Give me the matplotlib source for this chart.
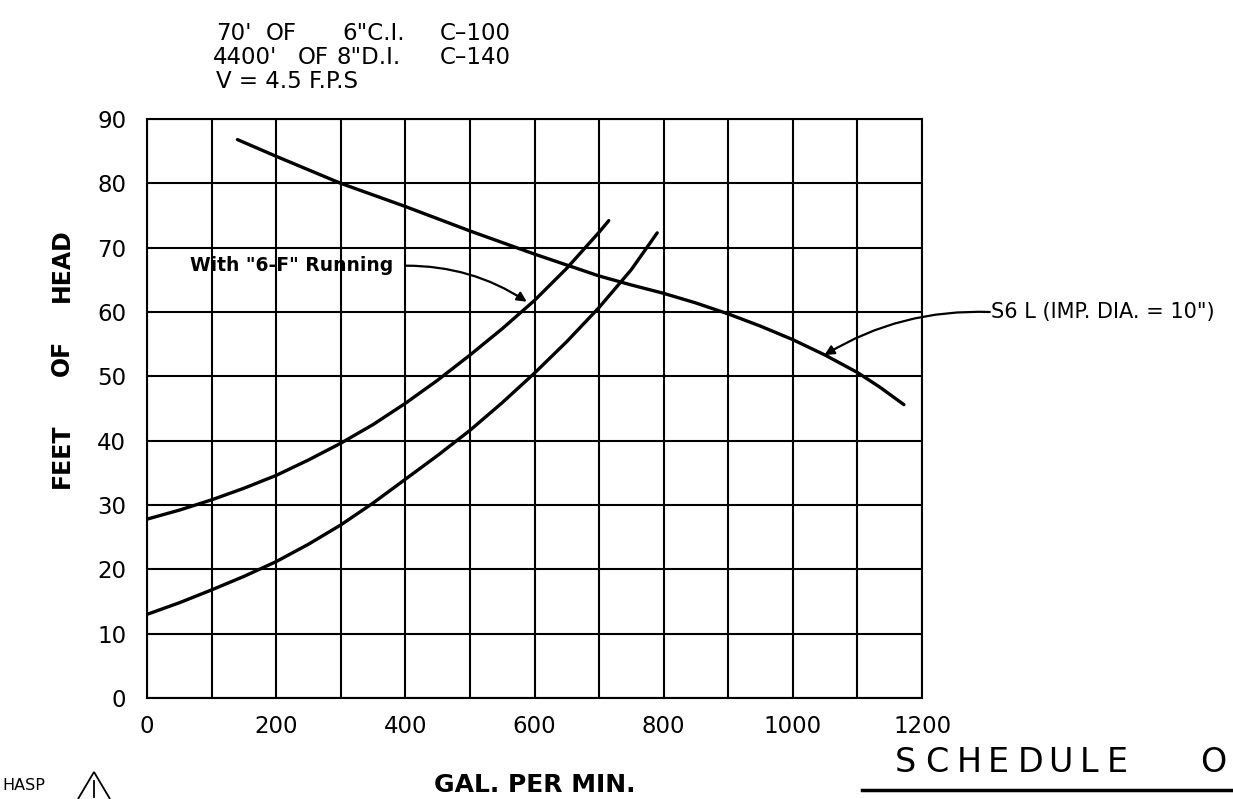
import matplotlib
matplotlib.use("Agg")
import matplotlib.pyplot as plt
from matplotlib.patches import Polygon
from matplotlib.lines import Line2D

plt.rcParams['font.family'] = ['DejaVu Sans']

# ---- data ----
pump_gpm = [140, 200, 250, 300, 350, 400, 450, 500, 550, 600, 650, 700, 750,
            800, 850, 900, 950, 1000, 1050, 1100, 1135, 1172]
pump_head = [86.8, 84.2, 82.1, 80.0, 78.2, 76.4, 74.5, 72.6, 70.8, 69.0, 67.3,
             65.6, 64.2, 62.9, 61.4, 59.7, 57.8, 55.7, 53.3, 50.6, 48.3, 45.6]

sys_6f_gpm = [0, 50, 100, 150, 200, 250, 300, 350, 400, 450, 500, 550, 600,
              650, 700, 715]
sys_6f_head = [27.8, 29.2, 30.8, 32.6, 34.6, 37.0, 39.6, 42.5, 45.8, 49.4,
               53.3, 57.4, 61.8, 66.8, 72.4, 74.2]

sys_gpm = [0, 50, 100, 150, 200, 250, 300, 350, 400, 450, 500, 550, 600, 650,
           700, 750, 790]
sys_head = [13.0, 14.8, 16.8, 18.9, 21.2, 23.9, 26.9, 30.3, 34.0, 37.7, 41.6,
            45.9, 50.5, 55.4, 60.7, 66.6, 72.3]

x_ticks = list(range(0, 1201, 100))
x_ticklabels = [str(v) if v % 200 == 0 else '' for v in x_ticks]
y_ticks = list(range(0, 91, 10))
y_ticklabels = [str(v) for v in y_ticks]

header_parts = [
    [(216, "70'"), (266, "OF"), (342, "6\"C.I."), (440, "C\u2013100")],
    [(213, "4400'"), (298, "OF"), (336, "8\"D.I."), (440, "C\u2013140")],
    [(216, "V = 4.5 F.P.S")],
]
header_y = [33, 57.5, 82]

W, H = 1233, 799
fig = plt.figure(figsize=(W / 100, H / 100), dpi=100)
fig.patch.set_facecolor('white')


def fx(px):
    return px / W


def fy(py):
    return 1 - py / H


ax = fig.add_axes([fx(147), fy(698), (922 - 147) / W, (698 - 119) / H])
ax.set_xlim(0, 1200)
ax.set_ylim(0, 90)
ax.set_xticks(x_ticks)
ax.set_xticklabels(x_ticklabels)
ax.set_yticks(y_ticks)
ax.set_yticklabels(y_ticklabels)
ax.grid(True, color='black', lw=1.5)
ax.set_axisbelow(True)
for s in ax.spines.values():
    s.set_linewidth(1.5)
ax.tick_params(axis='both', length=0, labelsize=16.5)
ax.tick_params(axis='x', pad=12)
ax.tick_params(axis='y', pad=15)

lw = 2.4
ax.plot(pump_gpm, pump_head, color='black', lw=lw, solid_capstyle='round')
ax.plot(sys_6f_gpm, sys_6f_head, color='black', lw=lw, solid_capstyle='round')
ax.plot(sys_gpm, sys_head, color='black', lw=lw, solid_capstyle='round')

# annotations
ax.text(66, 67.2, 'With "6-F" Running', fontsize=13.5, va='center', ha='left',
        fontweight='bold')
ax.annotate('', xy=(588, 61.6), xytext=(401, 67.2),
            arrowprops=dict(arrowstyle='-|>', connectionstyle='arc3,rad=-0.15',
                            lw=1.6, color='black', mutation_scale=14,
                            shrinkA=0, shrinkB=0))
ax.text(1307, 60.0, 'S6 L (IMP. DIA. = 10")', fontsize=15, va='center', ha='left',
        clip_on=False)
ax.annotate('', xy=(1049, 53.3), xytext=(1305, 60.0),
            arrowprops=dict(arrowstyle='-|>', connectionstyle='arc3,rad=0.15',
                            lw=1.6, color='black', mutation_scale=14,
                            shrinkA=0, shrinkB=0), annotation_clip=False)

# header text
for parts, yy in zip(header_parts, header_y):
    for xx, s in parts:
        fig.text(fx(xx), fy(yy), s, fontsize=16.5, va='center', ha='left')

# axis labels
for word, cy in [('HEAD', 265), ('OF', 358), ('FEET', 456)]:
    fig.text(fx(62), fy(cy), word, rotation=90, fontsize=17, fontweight='bold',
             va='center', ha='center')
fig.text(fx(535), fy(785), 'GAL. PER MIN.', fontsize=18, fontweight='bold',
         va='center', ha='center')

# title block bottom right
sched_letters = ['S', 'C', 'H', 'E', 'D', 'U', 'L', 'E', 'O']
sched_x = [895, 925, 957, 988, 1018, 1048, 1080, 1107, 1200]
for ch, xx in zip(sched_letters, sched_x):
    fig.text(fx(xx), fy(763), ch, fontsize=24, va='center', ha='left')
fig.add_artist(Line2D([fx(862), fx(1233)], [fy(790), fy(790)], color='black', lw=2.5))

# HASP marker bottom left
fig.text(fx(2), fy(785), 'HASP', fontsize=11.5, va='center', ha='left')
fig.add_artist(Polygon([[fx(78), fy(799)], [fx(94), fy(772)], [fx(110), fy(799)]],
                       closed=False, fill=False, lw=1.3, color='black'))
fig.add_artist(Line2D([fx(94), fx(94)], [fy(781), fy(797)], color='black', lw=1.3))

fig.savefig('out.png', dpi=100, facecolor='white')
